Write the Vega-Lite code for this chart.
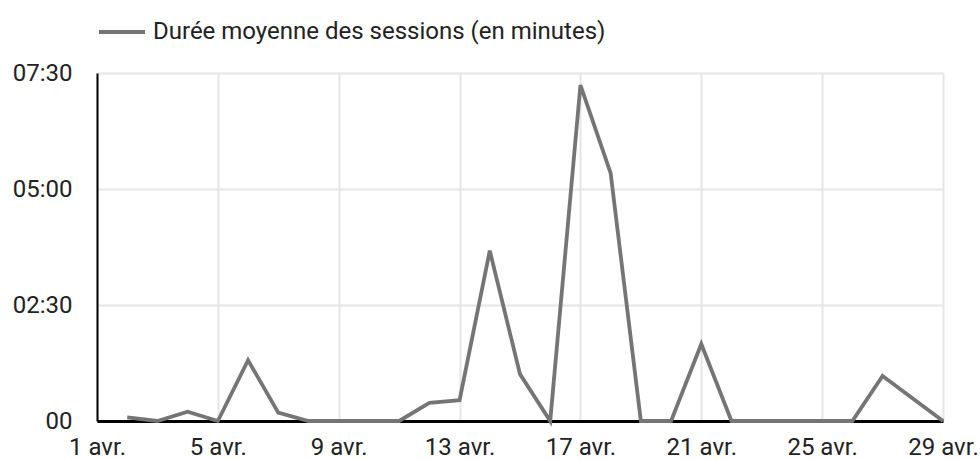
{
  "$schema": "https://vega.github.io/schema/vega-lite/v6.json",
  "autosize": {"type": "none"},
  "width": 846,
  "height": 348,
  "padding": {"left": 97, "top": 73, "right": 37, "bottom": 39},
  "background": "white",
  "config": {
    "view": {"stroke": null},
    "font": "Roboto"
  },
  "data": {
    "values": [
      {"jour": 2, "minutes": 0.08},
      {"jour": 3, "minutes": 0},
      {"jour": 4, "minutes": 0.2},
      {"jour": 5, "minutes": 0},
      {"jour": 6, "minutes": 1.31},
      {"jour": 7, "minutes": 0.18},
      {"jour": 8, "minutes": 0},
      {"jour": 9, "minutes": 0},
      {"jour": 10, "minutes": 0},
      {"jour": 11, "minutes": 0},
      {"jour": 12, "minutes": 0.39},
      {"jour": 13, "minutes": 0.45},
      {"jour": 14, "minutes": 3.67},
      {"jour": 15, "minutes": 1.01},
      {"jour": 16, "minutes": 0},
      {"jour": 17, "minutes": 7.24},
      {"jour": 18, "minutes": 5.34},
      {"jour": 19, "minutes": 0},
      {"jour": 20, "minutes": 0},
      {"jour": 21, "minutes": 1.66},
      {"jour": 22, "minutes": 0},
      {"jour": 23, "minutes": 0},
      {"jour": 24, "minutes": 0},
      {"jour": 25, "minutes": 0},
      {"jour": 26, "minutes": 0},
      {"jour": 27, "minutes": 0.97},
      {"jour": 29, "minutes": 0}
    ]
  },
  "mark": {"type": "line", "strokeWidth": 3.8, "strokeJoin": "miter", "clip": false},
  "encoding": {
    "x": {
      "field": "jour",
      "type": "quantitative",
      "scale": {"domain": [1, 29], "nice": false, "zero": false},
      "axis": {
        "title": null,
        "values": [1, 5, 9, 13, 17, 21, 25, 29],
        "labelExpr": "datum.value + ' avr.'",
        "labelFont": "Roboto",
        "labelFontSize": 24,
        "labelColor": "#222222",
        "labelPadding": 14,
        "labelOverlap": false,
        "labelBound": false,
        "labelFlush": false,
        "ticks": false,
        "domainColor": "#000000",
        "domainWidth": 3,
        "grid": true,
        "gridColor": "#e6e6e6",
        "gridWidth": 2,
        "zindex": 0
      }
    },
    "y": {
      "field": "minutes",
      "type": "quantitative",
      "scale": {"domain": [0, 7.5], "nice": false},
      "axis": {
        "title": null,
        "values": [0, 2.5, 5, 7.5],
        "labelExpr": "datum.value == 0 ? '00' : datum.value == 2.5 ? '02:30' : datum.value == 5 ? '05:00' : '07:30'",
        "labelFont": "Roboto",
        "labelFontSize": 24,
        "labelColor": "#222222",
        "labelPadding": 25,
        "labelOverlap": false,
        "labelBound": false,
        "ticks": false,
        "domainColor": "#000000",
        "domainWidth": 2,
        "grid": true,
        "gridColor": "#e6e6e6",
        "gridWidth": 2,
        "zindex": 0
      }
    },
    "color": {
      "datum": "Durée moyenne des sessions (en minutes)",
      "scale": {"range": ["#757575"]},
      "legend": {
        "title": null,
        "orient": "none",
        "legendX": 0,
        "legendY": -66,
        "symbolType": "stroke",
        "symbolSize": 2116,
        "symbolStrokeWidth": 3.8,
        "labelFont": "Roboto",
        "labelFontSize": 24,
        "labelColor": "#222222",
        "labelOffset": 6,
        "labelLimit": 800
      }
    }
  }
}
